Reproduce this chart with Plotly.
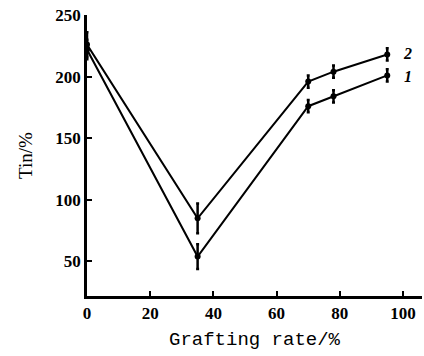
import plotly.graph_objects as go

grafting_rate = [0, 35, 70, 78, 95]
tin_1 = [222, 54, 176, 184, 201]
tin_2 = [226, 85, 196, 204, 218]
err_1 = [8, 10, 5, 5, 5]
err_2 = [10, 12, 5, 5, 5]
x_ticks = [0, 20, 40, 60, 80, 100]
y_ticks = [50, 100, 150, 200, 250]
series_labels = ["1", "2"]

fig = go.Figure()
for ys, er in [(tin_1, err_1), (tin_2, err_2)]:
    fig.add_trace(go.Scatter(
        x=grafting_rate, y=ys, mode="lines+markers",
        line=dict(color="black", width=2),
        marker=dict(color="black", size=6),
        error_y=dict(type="data", array=er, visible=True, color="black",
                     thickness=2.5, width=1.5),
        showlegend=False,
    ))

fig.add_annotation(x=101.5, y=tin_1[-1] - 1, text="<b><i>" + series_labels[0] + "</i></b>",
                   showarrow=False, font=dict(family="Liberation Serif", size=16, color="black"))
fig.add_annotation(x=101.5, y=tin_2[-1] + 1, text="<b><i>" + series_labels[1] + "</i></b>",
                   showarrow=False, font=dict(family="Liberation Serif", size=16, color="black"))

fig.update_layout(
    width=424, height=356,
    margin=dict(l=87, r=2, t=15, b=60),
    paper_bgcolor="white", plot_bgcolor="white",
    font=dict(family="Liberation Serif", size=15, color="black"),
)
fig.update_xaxes(
    range=[0, 106], tickvals=x_ticks, ticktext=["<b>%d</b>" % v for v in x_ticks],
    ticks="inside", ticklen=5, tickwidth=2,
    tickcolor="black", showline=True, linecolor="black", linewidth=2.5,
    showgrid=False, zeroline=False,
    tickfont=dict(family="Liberation Serif", size=17, color="black"),
    title=dict(text="Grafting rate/%", font=dict(family="Liberation Mono", size=19, color="black"),
               standoff=10),
)
fig.update_yaxes(
    range=[22, 250], tickvals=y_ticks, ticktext=["<b>%d</b>" % v for v in y_ticks],
    ticks="inside", ticklen=5, tickwidth=2,
    tickcolor="black", showline=True, linecolor="black", linewidth=2.5,
    showgrid=False, zeroline=False,
    tickfont=dict(family="Liberation Serif", size=17, color="black"),
    title=dict(text="Tin/%", font=dict(family="Liberation Serif", size=19, color="black"),
               standoff=18),
)

fig.write_html("out.html")
